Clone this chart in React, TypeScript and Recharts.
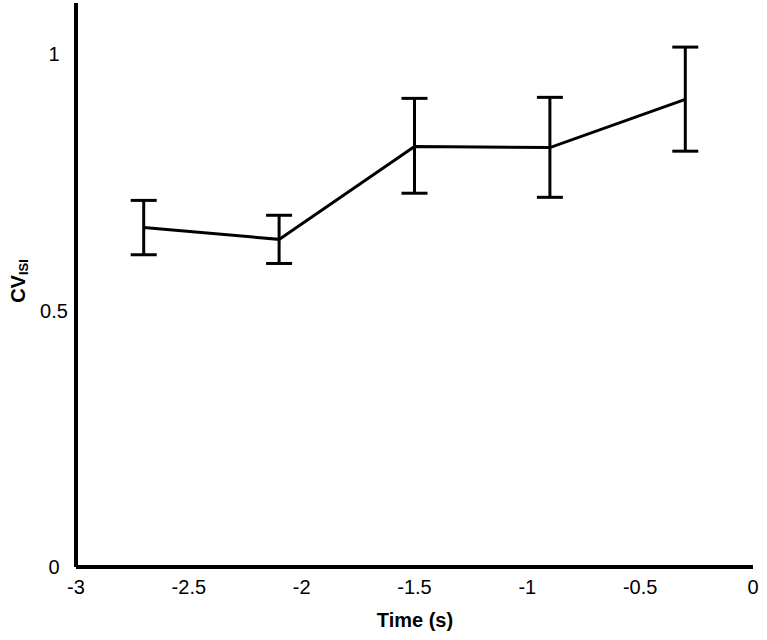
import React from 'react';
import { LineChart, Line, XAxis, YAxis, ErrorBar } from 'recharts';

// time before event (s)
const times = [-2.7, -2.1, -1.5, -0.9, -0.3];
// mean CV of ISI and the ends of the error bars
const cvMean = [0.662, 0.639, 0.82, 0.818, 0.912];
const cvLow = [0.609, 0.592, 0.729, 0.721, 0.811];
const cvHigh = [0.715, 0.686, 0.914, 0.916, 1.014];

const xTicks = [-3, -2.5, -2, -1.5, -1, -0.5, 0];
const yTicks = [0, 0.5, 1];

const data = times.map((t, i) => ({
  time: t,
  cv: cvMean[i],
  err: [cvMean[i] - cvLow[i], cvHigh[i] - cvMean[i]],
}));

const FONT = 'Arial, "Liberation Sans", sans-serif';

const XTick = (props: any) => {
  const { x, y, payload } = props;
  return (
    <text x={x} y={y + 19} textAnchor="middle" fontSize={20} fontFamily={FONT} fill="#000">
      {payload.value}
    </text>
  );
};

const YTick = (props: any) => {
  const { x, y, payload } = props;
  return (
    <text x={x - 14} y={y + 7} textAnchor="middle" fontSize={20} fontFamily={FONT} fill="#000">
      {payload.value}
    </text>
  );
};

export default function App() {
  return (
    <div style={{ position: 'absolute', left: 0, top: 0, background: '#fff' }}>
      <LineChart
        width={767}
        height={640}
        data={data}
        margin={{ top: 3, right: 14, bottom: 0, left: 0 }}
      >
        <XAxis
          dataKey="time"
          type="number"
          domain={[-3, 0]}
          ticks={xTicks}
          tickLine={false}
          axisLine={{ stroke: '#000', strokeWidth: 4 }}
          tick={<XTick />}
          height={73}
          label={{
            content: () => (
              <text
                x={415}
                y={627}
                textAnchor="middle"
                fontSize={20}
                fontWeight="bold"
                fontFamily={FONT}
                fill="#000"
              >
                Time (s)
              </text>
            ),
          }}
        />
        <YAxis
          type="number"
          domain={[0, 1.1]}
          ticks={yTicks}
          tickLine={false}
          axisLine={{ stroke: '#000', strokeWidth: 4 }}
          tick={<YTick />}
          width={76}
          label={{
            content: () => (
              <text
                transform="translate(25, 281) rotate(-90)"
                textAnchor="middle"
                fontWeight="bold"
                fontFamily={FONT}
                fill="#000"
              >
                <tspan fontSize={20}>CV</tspan>
                <tspan fontSize={13} dy={3}>ISI</tspan>
              </text>
            ),
          }}
        />
        <Line
          dataKey="cv"
          stroke="#000"
          strokeWidth={3}
          dot={false}
          isAnimationActive={false}
        >
          <ErrorBar dataKey="err" width={13} stroke="#000" strokeWidth={3} direction="y" />
        </Line>
      </LineChart>
    </div>
  );
}
